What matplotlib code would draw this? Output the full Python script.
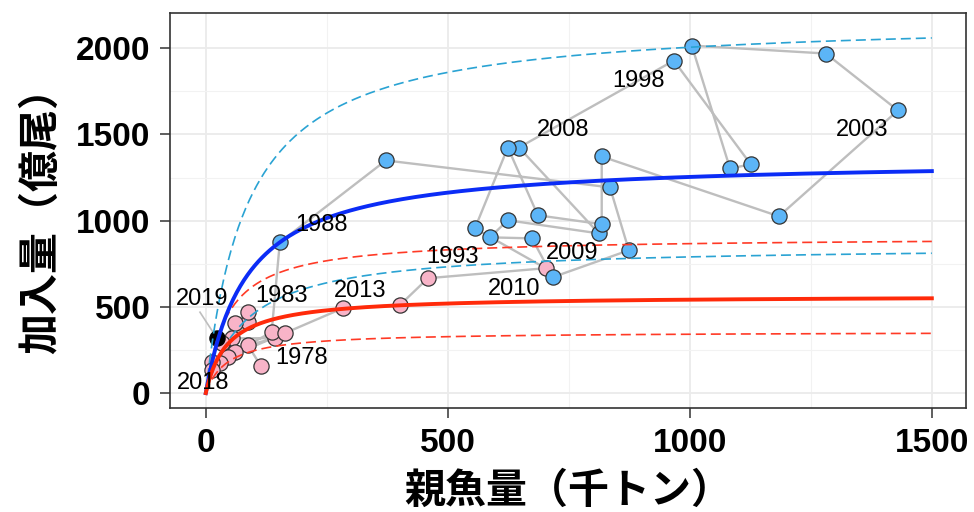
import numpy as np
import matplotlib
matplotlib.use('Agg')
import matplotlib.pyplot as plt
from matplotlib.ticker import MultipleLocator

plt.rcParams['font.family'] = ['Liberation Sans', 'Noto Sans CJK JP', 'DejaVu Sans']

# 年ごとの親魚量（千トン）と加入量（億尾）
years = list(range(1978, 2020))
ssb = [114, 87, 143, 54, 87, 87, 60, 33, 60, 136,
       153, 372, 835, 874, 717, 674, 587, 624, 812, 647,
       967, 1126, 1083, 1004, 1281, 1430, 1184, 818, 818, 686,
       624, 556, 702, 459, 401, 283, 163, 45, 29, 12,
       12, 23]
rec = [156, 278, 318, 318, 411, 469, 405, 290, 237, 353,
       874, 1349, 1193, 828, 672, 897, 903, 1002, 926, 1424,
       1928, 1326, 1303, 2015, 1969, 1639, 1025, 1372, 979, 1031,
       1424, 955, 724, 666, 510, 492, 347, 208, 174, 180,
       133, 318]

# 高加入期（青）
high_start, high_end = 1988, 2009

# 再生産関係（Beverton-Holt）のパラメータ
bh_high = (1360, 85)
bh_low = (566, 45)
ci_up, ci_low = 1.6, 0.63

# 年ラベルとその位置
label_years = [1978, 1983, 1988, 1993, 1998, 2003, 2008, 2009, 2010, 2013, 2018, 2019]
label_x = [198, 157, 240, 510, 893, 1355, 738, 756, 638, 318, -6, -8]
label_y = [203, 562, 973, 787, 1812, 1523, 1523, 811, 602, 591, 58, 544]

fig = plt.figure(figsize=(9.74, 5.12), dpi=100)
ax = fig.add_axes([0.1745, 0.203, 0.817, 0.7716])

ax.plot(ssb, rec, color='#bebebe', lw=1.7, zorder=2)

ssb = np.array(ssb)
rec = np.array(rec)
yr = np.array(years)
high = (yr >= high_start) & (yr <= high_end)
last = yr == yr.max()
low = ~high & ~last
ax.scatter(ssb[low], rec[low], s=120, c='#f8b4c8', edgecolors='#333333', linewidths=0.9, zorder=3)
ax.scatter(ssb[high], rec[high], s=120, c='#5cb5f7', edgecolors='#333333', linewidths=0.9, zorder=3)
ax.scatter(ssb[last], rec[last], s=120, c='black', edgecolors='black', linewidths=0.9, zorder=3)

s = np.linspace(0, 1500, 400)


def bh(p, x):
    return p[0] * x / (p[1] + x)


ax.plot(s, bh(bh_high, s) * ci_up, color='#2aa3d3', lw=1.2, ls=(0, (6, 3)), zorder=4)
ax.plot(s, bh(bh_high, s) * ci_low, color='#2aa3d3', lw=1.2, ls=(0, (6, 3)), zorder=4)
ax.plot(s, bh(bh_low, s) * ci_up, color='#ff3a26', lw=1.2, ls=(0, (6, 3)), zorder=4)
ax.plot(s, bh(bh_low, s) * ci_low, color='#ff3a26', lw=1.2, ls=(0, (6, 3)), zorder=4)
ax.plot(s, bh(bh_high, s), color='#0b2cf6', lw=2.8, zorder=4)
ax.plot(s, bh(bh_low, s), color='#ff2a0a', lw=2.8, zorder=4)

for y, lx, ly in zip(label_years, label_x, label_y):
    ax.text(lx, ly, str(y), fontsize=17, ha='center', va='center', zorder=5)
ax.plot([-12, 23], [469, 318], color='#bebebe', lw=1.2, zorder=2)

ax.set_xlim(-74, 1570)
ax.set_ylim(-87, 2204)
ax.xaxis.set_major_locator(MultipleLocator(500))
ax.xaxis.set_minor_locator(MultipleLocator(250))
ax.yaxis.set_major_locator(MultipleLocator(500))
ax.yaxis.set_minor_locator(MultipleLocator(250))
ax.grid(which='major', color='#ebebeb', lw=1.3, zorder=0)
ax.grid(which='minor', color='#f2f2f2', lw=0.8, zorder=0)
ax.set_axisbelow(True)
ax.tick_params(which='major', length=7, width=1.1, color='#333333', labelsize=24, pad=7)
ax.tick_params(which='minor', length=0)
for lab in ax.get_xticklabels() + ax.get_yticklabels():
    lab.set_fontweight('bold')
for sp in ax.spines.values():
    sp.set_color('#333333')
    sp.set_linewidth(1.2)

ax.set_xlabel('親魚量（千トン）', fontsize=29.5, fontweight='bold',
              family=['Noto Sans CJK JP', 'DejaVu Sans'], labelpad=8)
ax.set_ylabel('加入量（億尾）', fontsize=29.5, fontweight='bold',
              family=['Noto Sans CJK JP', 'DejaVu Sans'], labelpad=10)

fig.savefig('out.png', dpi=100)
